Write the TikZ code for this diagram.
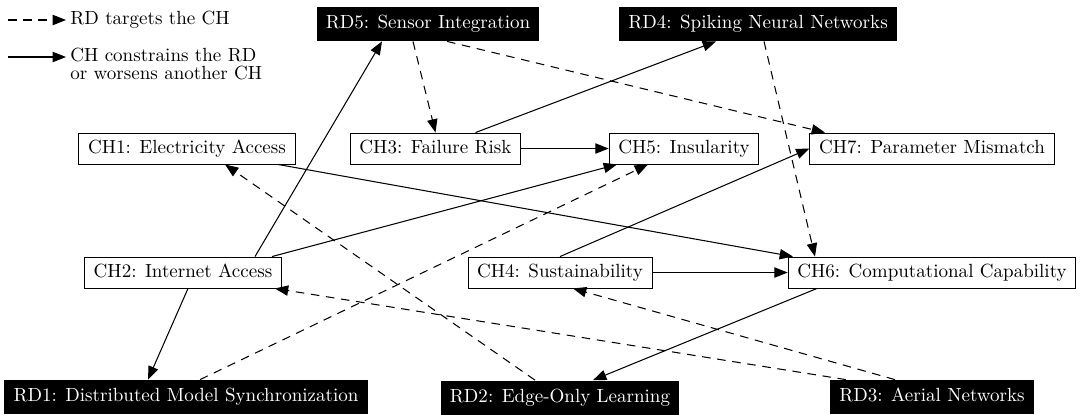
\documentclass[tikz,border=0pt]{standalone}
\usetikzlibrary{arrows.meta}
\def\pu{0.525pt}
\tikzset{
  every picture/.style={x=0.525pt, y=-0.525pt},
  chbox/.style={draw, line width=0.5pt, fill=white, inner xsep=4.8pt, inner ysep=3.7pt,
    text height=6.9pt, text depth=1.95pt},
  rdbox/.style={fill=black, text=white, inner xsep=4.8pt, inner ysep=4.5pt,
    text height=6.9pt, text depth=1.95pt},
  link/.style={line width=0.55pt, -{Triangle[length=7pt,width=5.4pt]}},
  targets/.style={link, dash pattern=on 4.5pt off 3.5pt},
}
\begin{document}
\begin{tikzpicture}
\useasboundingbox (0,0) rectangle (1082,414);

% legend
\coordinate (l1a) at (8,20);
\coordinate (l1b) at (66,20);
\coordinate (l2a) at (8,57);
\coordinate (l2b) at (66,57);
\draw[targets] (l1a) -- (l1b);
\draw[link] (l2a) -- (l2b);
\node[anchor=west, inner sep=0pt] (lt1) at (70,20) {RD targets the CH};
\node[anchor=north west, inner sep=0pt, align=left, font={\fontsize{10}{9.5}\selectfont}] (lt2) at (70,48)
  {CH constrains the RD\\or worsens another CH};

% research directions (top row)
\node[rdbox] (rd5) at (428,24) {RD5: Sensor Integration};
\node[rdbox] (rd4) at (758,24) {RD4: Spiking Neural Networks};

% challenges
\node[chbox] (ch1) at (187,148.5) {CH1: Electricity Access};
\node[chbox] (ch3) at (435.5,148.5) {CH3: Failure Risk};
\node[chbox] (ch5) at (684,148.5) {CH5: Insularity};
\node[chbox] (ch7) at (932,148.5) {CH7: Parameter Mismatch};
\node[chbox] (ch2) at (183,272.5) {CH2: Internet Access};
\node[chbox] (ch4) at (560,272.5) {CH4: Sustainability};
\node[chbox] (ch6) at (932,272.5) {CH6: Computational Capability};

% research directions (bottom row)
\node[rdbox] (rd1) at (186,397) {RD1: Distributed Model Synchronization};
\node[rdbox] (rd2) at (560,397.5) {RD2: Edge-Only Learning};
\node[rdbox] (rd3) at (932,397) {RD3: Aerial Networks};

% constraints
\draw[link] ([xshift=72*\pu]ch2.north) -- ([xshift=-46*\pu]rd5.south);
\draw[link] ([xshift=40*\pu]ch3.north) -- ([xshift=-42*\pu]rd4.south);
\draw[link] (ch3.east) -- (ch5.west);
\draw[link] ([xshift=91*\pu]ch1.south) -- ([xshift=-139*\pu]ch6.north);
\draw[link] ([xshift=89*\pu]ch2.north) -- ([xshift=-67*\pu]ch5.south);
\draw[link] (ch4.north) -- (ch7.west);
\draw[link] (ch4.east) -- (ch6.west);
\draw[link] ([xshift=5*\pu]ch2.south) -- ([xshift=-38*\pu]rd1.north);
\draw[link] ([xshift=-115*\pu]ch6.south) -- ([xshift=33*\pu]rd2.north);

% targets
\draw[targets] ([xshift=-15*\pu]rd5.south) -- (ch3.north);
\draw[targets] ([xshift=19*\pu]rd5.south) -- ([xshift=-107*\pu]ch7.north);
\draw[targets] ([xshift=6*\pu]rd4.south) -- ([xshift=-117*\pu]ch6.north);
\draw[targets] ([xshift=-25*\pu]rd2.north) -- ([xshift=38*\pu]ch1.south);
\draw[targets] ([xshift=14*\pu]rd1.north) -- ([xshift=-36*\pu]ch5.south);
\draw[targets] ([xshift=-86*\pu]rd3.north) -- ([xshift=-7*\pu]ch2.south east);
\draw[targets] ([xshift=-37*\pu]rd3.north) -- ([xshift=13*\pu]ch4.south);
\end{tikzpicture}
\end{document}
